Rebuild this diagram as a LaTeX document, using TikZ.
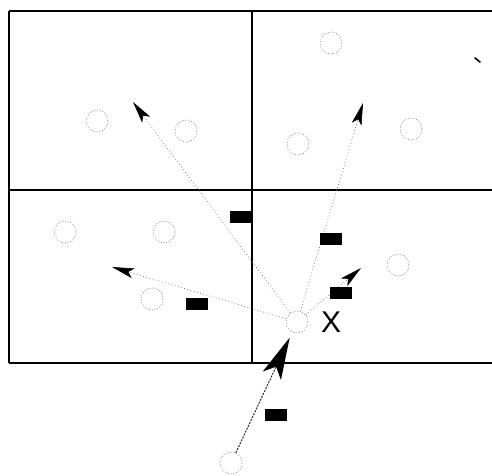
\documentclass[tikz,border=0pt]{standalone}
\usepackage{fontspec}
\setsansfont{Liberation Sans}
\usetikzlibrary{arrows.meta}
\begin{document}
\begin{tikzpicture}[x=1pt,y=-1pt,
  site/.style={circle,draw={rgb,255:red,125;green,125;blue,125},line width=0.55pt,dash pattern=on 1pt off 1.7pt,minimum size=22pt,inner sep=0pt},
  move/.style={draw={rgb,255:red,115;green,115;blue,115},line width=0.6pt,dash pattern=on 0.9pt off 2.4pt,-{Stealth[length=22pt,width=10pt,inset=5pt,color=black]}},
  push/.style={draw={rgb,255:red,40;green,40;blue,40},line width=1pt,dash pattern=on 2pt off 1.2pt,shorten >=6pt,-{Stealth[length=42pt,width=20pt,inset=10pt,color=black]}},
  tag/.style={fill=black,minimum width=22pt,minimum height=12pt,inner sep=0pt}]
\path[use as bounding box] (0,0) rectangle (492,475);
\path[fill=white,draw=none] (0,0) rectangle (492,475);
% cells
\draw[line width=1.2pt] (9,11) -- (492,11);
\draw[line width=1.2pt] (9,190) -- (492,190);
\draw[line width=1.2pt] (9,363) -- (492,363);
\draw[line width=1.2pt] (9,11) -- (9,363);
\draw[line width=1.2pt] (252,11) -- (252,363);
% sites
\node[site] (a1) at (97,121) {};
\node[site] (a2) at (186,131) {};
\node[site] (b1) at (331,43) {};
\node[site] (b2) at (298,144) {};
\node[site] (b3) at (411,129) {};
\node[site] (c1) at (65,232) {};
\node[site] (c2) at (164,232) {};
\node[site] (c3) at (152,299) {};
\node[site] (d1) at (398,265) {};
\node[site] (x) at (297,322) {};
\node[site] (src) at (231,463) {};
\node[inner sep=0pt,font=\sffamily\fontsize{30pt}{34pt}\selectfont] (xlabel) at (331,322) {X};
% arrow ends
\coordinate (endA) at (133,102);
\coordinate (endB) at (363,103);
\coordinate (endC) at (112,267);
\coordinate (endD) at (361,268);
\draw[move] (x) -- (endA);
\draw[move] (x) -- (endB);
\draw[move] (x) -- (endC);
\draw[move] (x) -- (endD);
\draw[push] (src) -- (x);
% tags
\node[tag] (tagA) at (240.5,216.5) {};
\node[tag] (tagB) at (331,239) {};
\node[tag] (tagC) at (197,304) {};
\node[tag] (tagD) at (341,293) {};
\node[tag] (tagE) at (276,415) {};
\draw[line width=1.6pt,line cap=round] (475,58) -- (480,62);
\end{tikzpicture}
\end{document}
